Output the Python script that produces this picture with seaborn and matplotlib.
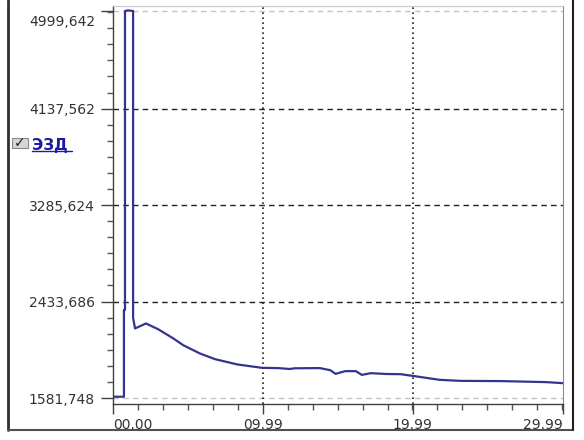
import numpy as np
import pandas as pd
import matplotlib
matplotlib.use('Agg')
import matplotlib.pyplot as plt
import matplotlib.transforms as mtransforms
import seaborn as sns
from matplotlib.lines import Line2D
from matplotlib.patches import Rectangle
from matplotlib.ticker import FixedLocator, AutoMinorLocator

# time axis (minutes) and signal values
times = [0, 0.73, 0.73, 0.80, 0.80, 1.0, 1.34, 1.34, 1.47, 2.2, 3.0, 4.0, 4.7, 5.8, 6.8, 8.3, 9.95,
         11.0, 11.8, 12.1, 13.8, 14.5, 14.85, 15.5, 16.2, 16.6, 17.2, 18.2, 19.2, 20.0,
         21.8, 23.2, 25.9, 28.9, 29.99]
values = [1593, 1593, 2360, 2360, 4999.6, 5005, 4999.6, 2290, 2196, 2240, 2190, 2110, 2047, 1975,
          1925, 1878, 1848,
          1846, 1838, 1844, 1846, 1827, 1795, 1819, 1819, 1786, 1801, 1794, 1792, 1777,
          1742, 1733, 1731, 1722, 1713]

y_ticks = [1581.748, 2433.686, 3285.624, 4137.562, 4999.642]
y_labels = ['1581,748', '2433,686', '3285,624', '4137,562', '4999,642']
x_ticks = [0, 9.99, 19.99, 29.99]
x_labels = ['00.00', '09.99', '19.99', '29.99']
series_name = 'ЭЗД'

df = pd.DataFrame({'t': times, 'v': values})

sns.set_style('white')
plt.rcParams['font.family'] = ['DejaVu Sans']

W, H = 584, 440
fig = plt.figure(figsize=(W / 100, H / 100), dpi=100)
ax = fig.add_axes([113 / W, 1 - 404 / H, 449.5 / W, 398 / H])

sns.lineplot(data=df, x='t', y='v', ax=ax, sort=False, estimator=None,
             color='#34348f', linewidth=1.6)

# axis limits so that the outer ticks sit where they do in the picture
upp = (y_ticks[-1] - y_ticks[0]) / 387.0
ax.set_ylim(y_ticks[0] - 6 * upp, y_ticks[-1] + 5 * upp)
ax.set_xlim(x_ticks[0], x_ticks[-1])

# grid lines
for i, yv in enumerate(y_ticks):
    if i == 0 or i == len(y_ticks) - 1:
        ax.axhline(yv, color='#c4c4c4', lw=1, ls=(0, (4, 3)), zorder=0)
    else:
        ax.axhline(yv, color='#222222', lw=1, ls=(0, (4, 3)), zorder=0)
for xv in x_ticks[1:-1]:
    ax.axvline(xv, color='#222222', lw=1.2, ls=(0, (1, 2)), zorder=0)

ax.yaxis.set_major_locator(FixedLocator(y_ticks))
ax.set_yticklabels(y_labels)
ax.xaxis.set_major_locator(FixedLocator(x_ticks))
ax.set_xticklabels(x_labels)
ax.xaxis.set_minor_locator(AutoMinorLocator(6))
ax.yaxis.set_minor_locator(AutoMinorLocator(6))

ax.tick_params(axis='both', which='major', length=9, width=1, color='#404040',
               labelsize=10, labelcolor='#333333', direction='out')
ax.tick_params(axis='y', which='major', pad=4)
ax.tick_params(axis='x', which='major', length=7, pad=3)
ax.tick_params(axis='both', which='minor', length=4, width=1, color='#555555', direction='out')
ax.tick_params(left=True, bottom=True, which='both')

xl = ax.get_xticklabels()
xl[0].set_horizontalalignment('left')
xl[-1].set_horizontalalignment('right')
yl = ax.get_yticklabels()
yl[-1].set_verticalalignment('top')
yl[-1].set_transform(yl[-1].get_transform() +
                     mtransforms.ScaledTranslation(0, -3 / 72, fig.dpi_scale_trans))

ax.set_xlabel('')
ax.set_ylabel('')

for s in ['left', 'bottom']:
    ax.spines[s].set_color('#404040')
    ax.spines[s].set_linewidth(1)
ax.spines['top'].set_color('#c8c8c8')
ax.spines['right'].set_color('#8a8a8a')

# legend-like label with checkbox on the left
fig.add_artist(Rectangle((12 / W, 1 - 148 / H), 16 / W, 10 / H, transform=fig.transFigure,
                         facecolor='#d6d6d6', edgecolor='#8a8a8a', lw=0.8))
fig.text(20 / W, 1 - 143 / H, '✓', ha='center', va='center', fontsize=10,
         fontweight='bold', color='#202020')
fig.text(32 / W, 1 - 145 / H, series_name, ha='left', va='center', fontsize=11,
         fontweight='bold', color='#1c1ca0')
fig.add_artist(Line2D([32 / W, 72 / W], [1 - 151 / H, 1 - 151 / H], transform=fig.transFigure,
                      color='#1c1ca0', lw=1))

# outer window frame
fig.add_artist(Line2D([8 / W, 8 / W], [1.0, 1 - 430 / H], transform=fig.transFigure,
                      color='#303030', lw=2))
fig.add_artist(Line2D([8 / W, 573 / W], [1 - 430 / H, 1 - 430 / H], transform=fig.transFigure,
                      color='#505050', lw=1.5))
fig.add_artist(Line2D([573 / W, 573 / W], [1.0, 1 - 430 / H], transform=fig.transFigure,
                      color='#202020', lw=1.5))

fig.savefig('out.png', dpi=100)
